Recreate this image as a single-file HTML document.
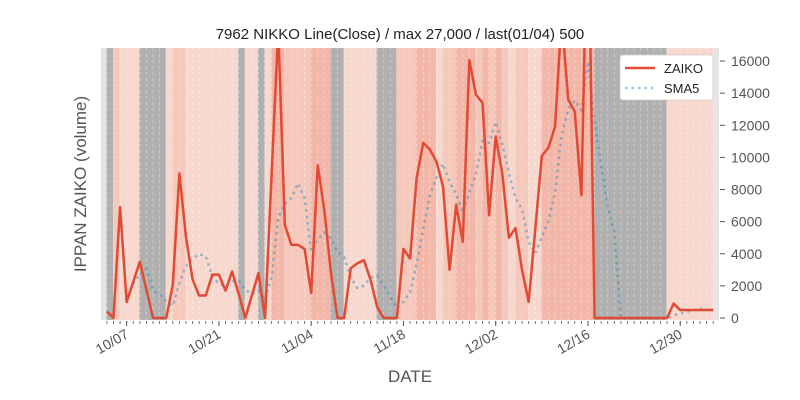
<!DOCTYPE html>
<html><head><meta charset="utf-8"><style>
html,body{margin:0;padding:0;background:#fff;}
svg{display:block;font-family:"Liberation Sans","DejaVu Sans",sans-serif;}
</style></head><body>
<svg id="chart" width="800" height="400" viewBox="0 0 800 400">
<text x="400" y="39" text-anchor="middle" font-size="15" fill="#222">7962 NIKKO Line(Close) / max 27,000 / last(01/04) 500</text>
<defs><clipPath id="clip"><rect x="101" y="48" width="618" height="272"/></clipPath></defs>
<rect x="101" y="48" width="618" height="272" fill="#e5e5e5"/>
<g id="bands" clip-path="url(#clip)"></g>
<g id="grid" clip-path="url(#clip)"></g>
<g id="lines" clip-path="url(#clip)"></g>
<g id="xaxis"></g>
<g id="yaxis"></g>
<text transform="translate(86,184) rotate(-90)" text-anchor="middle" font-size="17" fill="#555">IPPAN ZAIKO (volume)</text>
<text x="410" y="382" text-anchor="middle" font-size="17" fill="#555">DATE</text>
<g>
<rect x="620" y="55" width="93" height="45" rx="3" fill="#fff" stroke="#ccc" stroke-width="0.8"/>
<line x1="625" y1="68" x2="655" y2="68" stroke="#e24a33" stroke-width="2.5"/>
<text x="664" y="73" font-size="13" fill="#222">ZAIKO</text>
<line x1="625" y1="88" x2="655" y2="88" stroke="#348abd" stroke-opacity="0.5" stroke-width="2.5" stroke-dasharray="2.5,4"/>
<text x="664" y="93" font-size="13" fill="#222">SMA5</text>
</g>
</svg>
<script>
const startLabel = ['10/04'];
const zaiko = [400,0,6900,1000,2250,3500,1750,0,0,0,2050,9000,5050,2400,1400,1400,2700,2700,1700,2900,1500,0,1400,2800,0,9000,18000,5800,4550,4550,4300,1550,9500,6700,2800,0,0,3100,3400,3600,2400,700,0,0,0,4300,3700,8700,10900,10500,9750,8200,3000,7050,4750,16050,13900,13400,6400,11300,9000,5000,5600,3000,1000,5500,10100,10600,11900,18750,13600,12850,7650,27000,0,0,0,0,0,0,0,0,0,0,0,0,900,500,500,500,500,500,500];
const bandLevel = [3,1,0,0,0,3,3,3,3,0,1,1,0,0,0,0,0,0,0,0,3,0,0,3,0,2,2,1,1,1,1,2,2,2,3,3,0,0,0,0,0,3,3,3,1,1,1,2,2,2,0,1,1,2,2,2,1,2,1,2,1,0,1,1,0,0,2,2,2,2,2,2,2,2,3,3,3,3,3,3,3,3,3,3,3,0,0,0,0,0,0,0];
const xTickLabels = ['10/07','10/21','11/04','11/18','12/02','12/16','12/30'];
const xTickDays = [3,17,31,45,59,73,87];
const yTicks = [0,2000,4000,6000,8000,10000,12000,14000,16000];

const NS='http://www.w3.org/2000/svg';
const X0=106.9, DX=6.59, Y0=318, YS=16.06/1000;
const xs = d => X0 + d*DX;
const ys = v => Y0 - v*YS;
function mk(tag, attrs, parent){const e=document.createElementNS(NS,tag);for(const k in attrs)e.setAttribute(k,attrs[k]);parent.appendChild(e);return e;}
const bandColors=['#f7d8cf','#f5c8bc','#f3b7a9','#b0b0b0'];
const gb=document.getElementById('bands');
bandLevel.forEach((l,i)=>{
  const r=mk('rect',{x:xs(i)-0.5,y:48,width:DX+0.6,height:272,fill:bandColors[l]},gb);
  
  
});
const gg=document.getElementById('grid');
for(let d=0;d<zaiko.length;d++){
  const l=mk('line',{x1:xs(d),x2:xs(d),y1:48,y2:320,stroke:'#fff','stroke-opacity':0.45,'stroke-width':0.8,'stroke-dasharray':'3,3'},gg);
  
  
}
const gl=document.getElementById('lines');
const sma=[];
for(let i=4;i<zaiko.length;i++){let s=0;for(let j=i-4;j<=i;j++)s+=zaiko[j];sma.push([i,s/5]);}
const sp=mk('polyline',{points:sma.map(p=>xs(p[0])+','+ys(p[1])).join(' '),fill:'none',stroke:'#348abd','stroke-opacity':0.5,'stroke-width':2.5,'stroke-dasharray':'2.5,4'},gl);


const zp=mk('polyline',{points:zaiko.map((v,i)=>xs(i)+','+ys(v)).join(' '),fill:'none',stroke:'#e24a33','stroke-width':2.5,'stroke-linejoin':'round'},gl);


const gx=document.getElementById('xaxis');
for(let d=-1;d<=93;d++){
  const x=xs(d); if(x<101||x>719)continue;
  const t=mk('line',{x1:x,x2:x,y1:321,y2:324,stroke:'#555','stroke-width':0.8},gx);
  
  
}
xTickDays.forEach((d,i)=>{
  const x=xs(d);
  const t=mk('line',{x1:x,x2:x,y1:321,y2:326,stroke:'#555','stroke-width':1},gx);
  
  
  const tx=mk('text',{x:x+3,y:337,'text-anchor':'end','font-size':14,fill:'#555',transform:`rotate(-30 ${x+3} 337)`},gx);
  tx.textContent=xTickLabels[i];
  
  
});
const gy=document.getElementById('yaxis');
yTicks.forEach(v=>{
  const y=ys(v);
  const t=mk('line',{x1:720,x2:725,y1:y,y2:y,stroke:'#555','stroke-width':1},gy);
  
  
  const tx=mk('text',{x:731,y:y+5,'font-size':14,fill:'#555'},gy);
  tx.textContent=String(v);
  
  
});
</script>
</body></html>
